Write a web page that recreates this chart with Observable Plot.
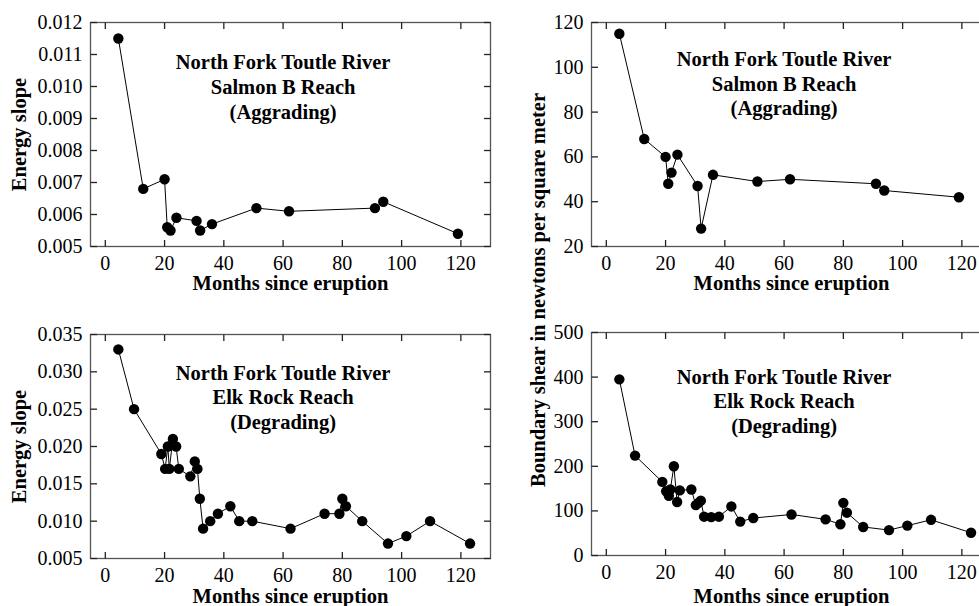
<!DOCTYPE html>
<html>
<head>
<meta charset="utf-8">
<script src="https://cdn.jsdelivr.net/npm/d3@7"></script>
<script src="https://cdn.jsdelivr.net/npm/@observablehq/plot@0.6"></script>
<style>
  html, body { margin: 0; padding: 0; background: #fff; overflow: hidden; }
  #root { position: relative; width: 979px; height: 606px; overflow: hidden; background: #fff; }
  #root svg { position: absolute; background: transparent; max-width: none; }
  .ylab { position: absolute; font-family: "Liberation Serif", serif; font-weight: bold; font-size: 20.5px;
          white-space: nowrap; transform: translate(-50%, -50%) rotate(-90deg); color: #000; }
</style>
</head>
<body>
<div id="root"></div>
<script>
// ---- data ----
const salmonMonths = [4.4, 12.8, 20, 20.9, 22, 24, 30.8, 32, 36, 51, 62, 91, 93.8, 119];
const salmonSlope  = [0.0115, 0.0068, 0.0071, 0.0056, 0.0055, 0.0059, 0.0058, 0.0055, 0.0057, 0.0062, 0.0061, 0.0062, 0.0064, 0.0054];
const salmonShear  = [115, 68, 60, 48, 53, 61, 47, 28, 52, 49, 50, 48, 45, 42];

const elkMonths = [4.4, 9.7, 18.9, 20.2, 21.1, 21.6, 22.8, 23.9, 24.8, 28.7, 30.2, 31.1, 31.9, 33, 35.4, 38, 42.2, 45.2, 49.6, 62.5, 74, 79, 80, 81.2, 86.7, 95.4, 101.6, 109.6, 123.1];
const elkSlope  = [0.033, 0.025, 0.019, 0.017, 0.020, 0.017, 0.021, 0.020, 0.017, 0.016, 0.018, 0.017, 0.013, 0.009, 0.010, 0.011, 0.012, 0.010, 0.010, 0.009, 0.011, 0.011, 0.013, 0.012, 0.010, 0.007, 0.008, 0.010, 0.007];
const elkShear  = [395, 224, 165, 144, 134, 148, 200, 120, 146, 148, 113, 118, 123, 87, 86, 87, 110, 76, 84, 92, 81, 70, 118, 96, 64, 57, 67, 80, 51];

const xTicks = [0, 20, 40, 60, 80, 100, 120];
const salmonSlopeTicks = [0.005, 0.006, 0.007, 0.008, 0.009, 0.010, 0.011, 0.012];
const elkSlopeTicks = [0.005, 0.010, 0.015, 0.020, 0.025, 0.030, 0.035];
const salmonShearTicks = [20, 40, 60, 80, 100, 120];
const elkShearTicks = [0, 100, 200, 300, 400, 500];

const xLabel = "Months since eruption";
const slopeLabel = "Energy slope";
const shearLabel = "Boundary shear in newtons per square meter";
const salmonTitle = "North Fork Toutle River\nSalmon B Reach\n(Aggrading)";
const elkTitle = "North Fork Toutle River\nElk Rock Reach\n(Degrading)";

const root = document.getElementById("root");
const xDomain = [-5, 130];

function panel(o) {
  const data = o.months.map((m, i) => ({m, v: o.values[i]}));
  const fw = o.width - o.mL - o.mR;
  const fh = o.height - o.mT - o.mB;
  const T = 6.5; // inward tick length in pixels
  const [y0, y1] = o.yDomain;
  const [x0, x1] = xDomain;
  const ty = (y1 - y0) * T / fh;
  const tx = (x1 - x0) * T / fw;
  const bottomTicks = xTicks.map(x => ({x, a: y0, b: y0 + ty}));
  const topTicks = xTicks.map(x => ({x, a: y1, b: y1 - ty}));
  const leftTicks = o.yTicks.map(y => ({y, a: x0, b: x0 + tx}));
  const rightTicks = o.yTicks.map(y => ({y, a: x1, b: x1 - tx}));
  const tk = {stroke: "#222", strokeWidth: 1.3};
  const plot = Plot.plot({
    width: o.width, height: o.height,
    marginLeft: o.mL, marginRight: o.mR, marginTop: o.mT, marginBottom: o.mB,
    style: {fontFamily: "Liberation Serif, serif", fontSize: "20px", color: "#000", background: "transparent", overflow: "visible"},
    x: {domain: xDomain},
    y: {domain: o.yDomain},
    marks: [
      Plot.frame({stroke: "#555", strokeWidth: 1.3}),
      Plot.link(bottomTicks, {x1: "x", x2: "x", y1: "a", y2: "b", ...tk}),
      Plot.link(topTicks, {x1: "x", x2: "x", y1: "a", y2: "b", ...tk}),
      Plot.link(leftTicks, {y1: "y", y2: "y", x1: "a", x2: "b", ...tk}),
      Plot.link(rightTicks, {y1: "y", y2: "y", x1: "a", x2: "b", ...tk}),
      Plot.axisX(xTicks, {anchor: "bottom", tickSize: 0, tickPadding: 9, label: null, fill: "#000"}),
      Plot.axisY(o.yTicks, {anchor: "left", tickSize: 0, tickPadding: 8, tickFormat: o.yFormat, label: null, fill: "#000"}),
      Plot.line(data, {x: "m", y: "v", stroke: "#000", strokeWidth: 1}),
      Plot.dot(data, {x: "m", y: "v", r: 5.2, fill: "#000", stroke: "none"}),
      Plot.text([o.title], {x: 60, y: o.annY, fontWeight: "bold", fontSize: 20.5, lineHeight: 1.2, fill: "#000"}),
      Plot.text([xLabel], {frameAnchor: "bottom", lineAnchor: "middle", textAnchor: "middle", dy: o.xlDy, fontWeight: "bold", fontSize: 20.5, fill: "#000"}),
      o.ylabel ? Plot.text([o.ylabel], {frameAnchor: "left", lineAnchor: "middle", textAnchor: "middle", dx: -71, rotate: -90, fontWeight: "bold", fontSize: 20.5, fill: "#000"}) : null
    ]
  });
  plot.style.left = o.left + "px";
  plot.style.top = o.top + "px";
  root.appendChild(plot);
}

const fmt3 = d3.format(".3f");

panel({months: salmonMonths, values: salmonSlope, yDomain: [0.005, 0.012], yTicks: salmonSlopeTicks, yFormat: fmt3,
  title: salmonTitle, annY: 0.01001, ylabel: slopeLabel, xlDy: 37,
  left: 0, top: 0, width: 500, height: 296, mL: 90, mR: 10, mT: 22, mB: 50});
panel({months: salmonMonths, values: salmonShear, yDomain: [20, 120], yTicks: salmonShearTicks, yFormat: d3.format("d"),
  title: salmonTitle, annY: 93, ylabel: null, xlDy: 37,
  left: 500, top: 0, width: 501, height: 296, mL: 91, mR: 10, mT: 22, mB: 50});
panel({months: elkMonths, values: elkSlope, yDomain: [0.005, 0.035], yTicks: elkSlopeTicks, yFormat: fmt3,
  title: elkTitle, annY: 0.02673, ylabel: slopeLabel, xlDy: 38,
  left: 0, top: 300, width: 500, height: 306, mL: 90, mR: 10, mT: 34, mB: 48});
panel({months: elkMonths, values: elkShear, yDomain: [0, 500], yTicks: elkShearTicks, yFormat: d3.format("d"),
  title: elkTitle, annY: 348, ylabel: null, xlDy: 41,
  left: 500, top: 300, width: 501, height: 306, mL: 91, mR: 10, mT: 32, mB: 51});

const yl = document.createElement("div");
yl.className = "ylab";
yl.textContent = shearLabel;
yl.style.left = "538px";
yl.style.top = "290px";
root.appendChild(yl);
</script>
</body>
</html>
